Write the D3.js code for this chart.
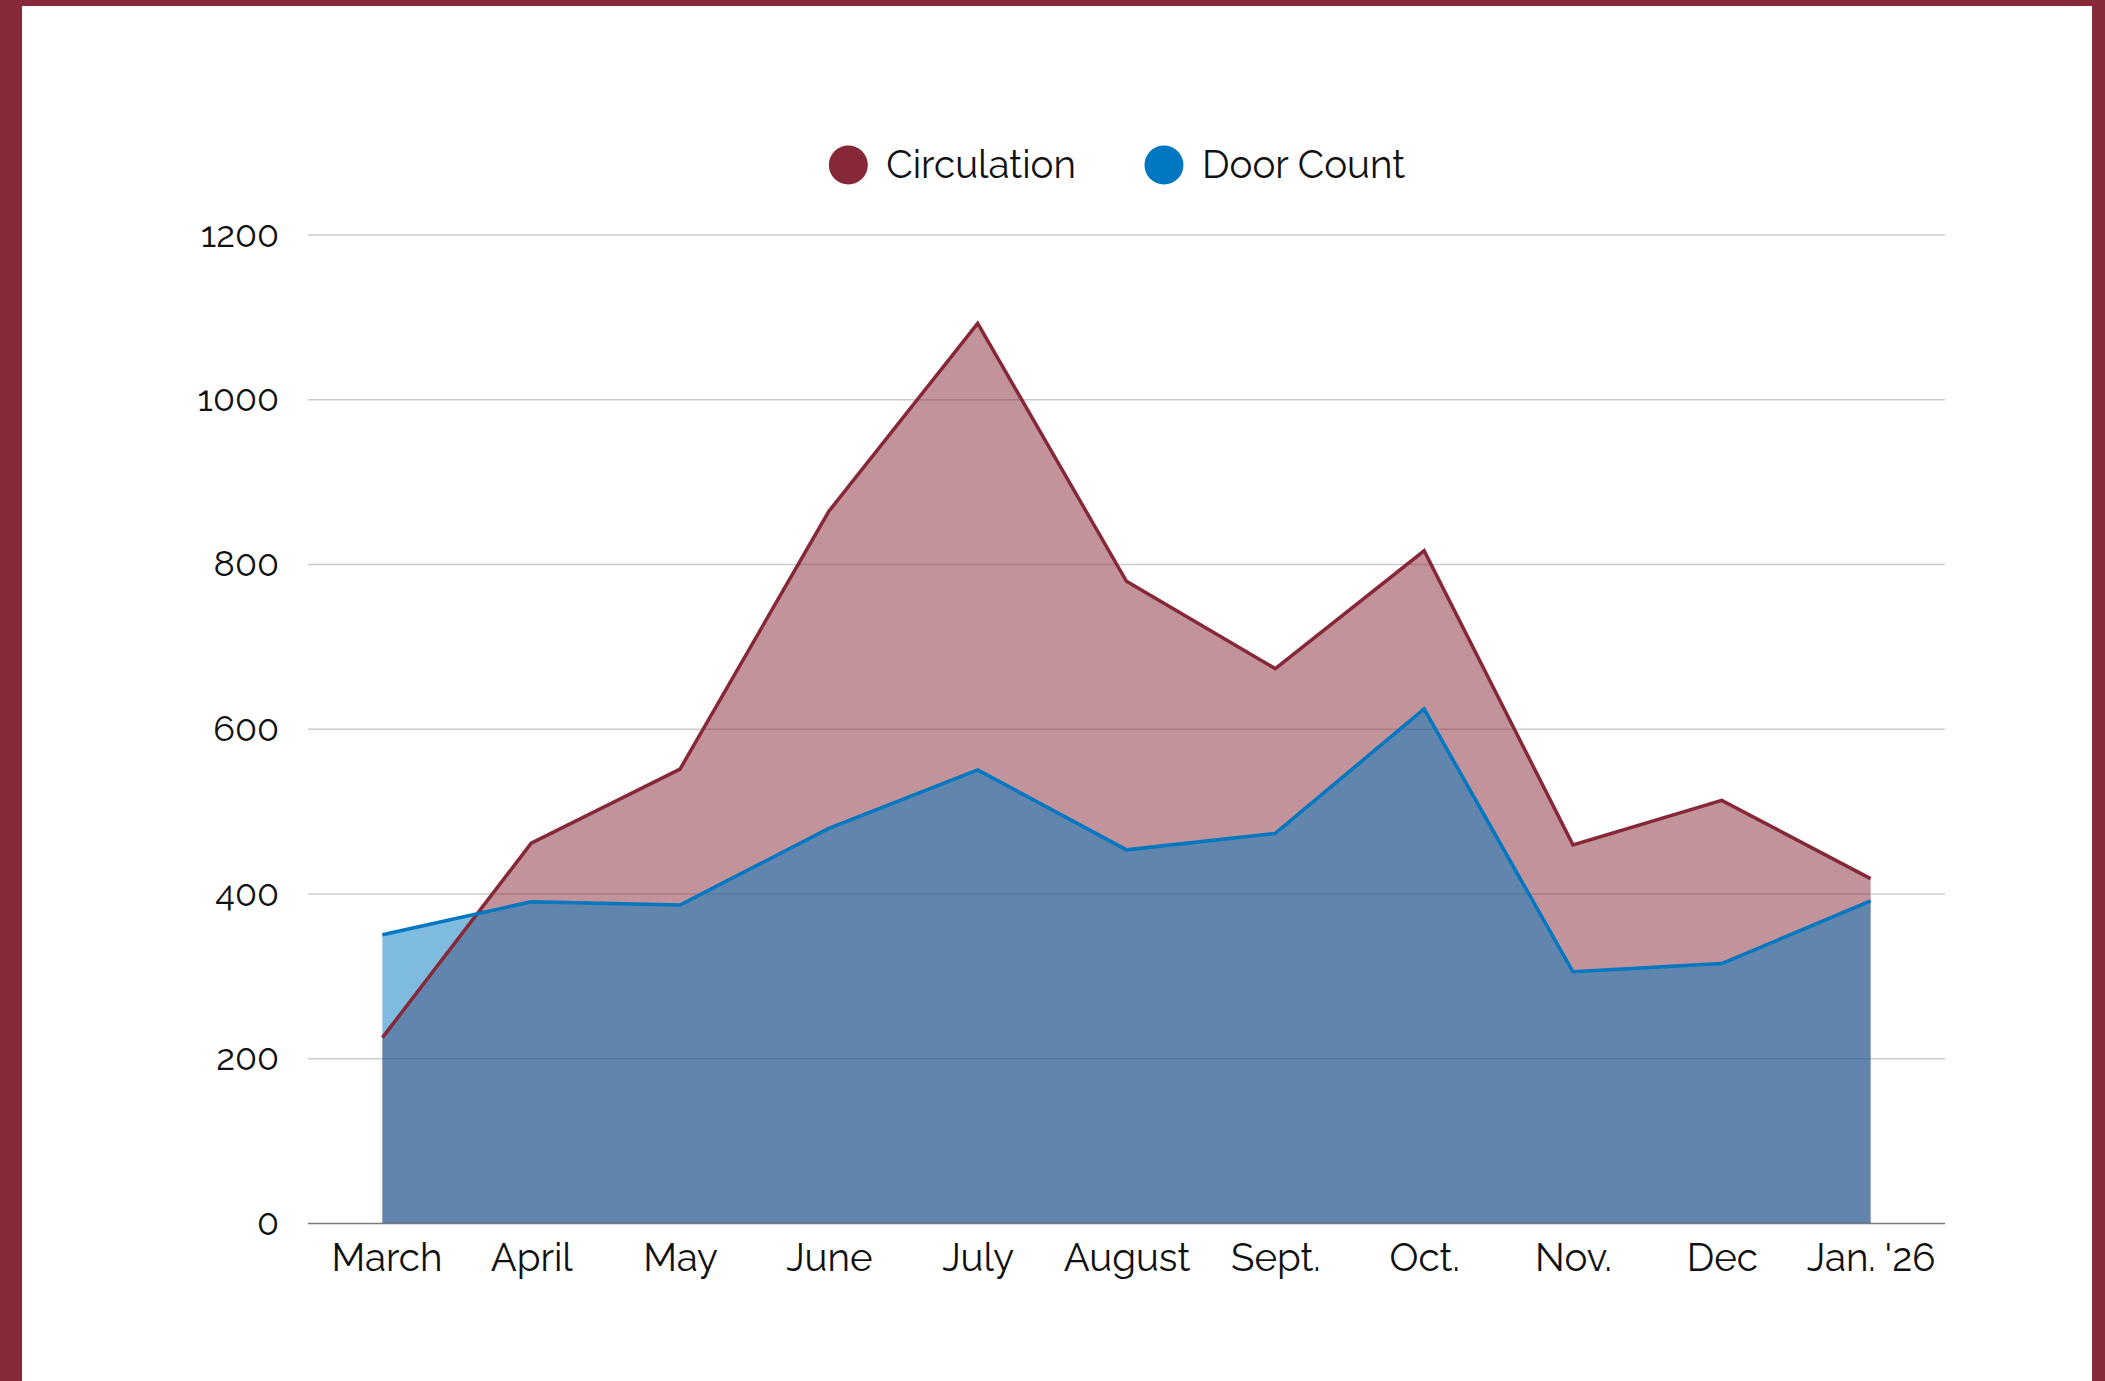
<!DOCTYPE html>
<html><head><meta charset="utf-8">
<script src="https://cdn.jsdelivr.net/npm/d3@7"></script>
<style>html,body{margin:0;padding:0;background:#fff;} svg{display:block;}</style>
</head><body><div id="chart"></div>
<script>
const categories = ["March","April","May","June","July","August","Sept.","Oct.","Nov.","Dec","Jan. '26"];
const circulation = [225,461,551,864,1092,779,673,816,459,513,418];
const doorCount = [350,390,386,479,550,453,473,624,305,315,391];
const yTicks = [0,200,400,600,800,1000,1200];
const seriesNames = ["Circulation","Door Count"];
const seriesColors = ["#862838","#0077C0"];

const W = 2105, H = 1381;
const FONT = "Raleway, Lato, 'Open Sans', sans-serif";
const svg = d3.select("#chart").append("svg").attr("width", W).attr("height", H);
svg.append("rect").attr("width", W).attr("height", H).attr("fill", "#862938");
svg.append("rect").attr("x", 22).attr("y", 6).attr("width", 2092 - 22).attr("height", H - 6).attr("fill", "#fff");

const x = d3.scalePoint().domain(categories).range([308, 1945]).padding(0.5);
const y = d3.scaleLinear().domain([0, 1200]).range([1223, 234.5]);

// grid + y axis
const yAxis = svg.append("g").attr("transform", "translate(308,0)")
  .call(d3.axisLeft(y).tickValues(yTicks).tickSize(-(1945 - 308)).tickPadding(29).tickFormat(d3.format("d")));
yAxis.select(".domain").remove();
yAxis.selectAll(".tick line").attr("stroke", d => d === 0 ? "#7a7a7a" : "#cccccc").attr("stroke-width", 1.5);
yAxis.selectAll(".tick text").attr("font-family", FONT).attr("font-size", 36).attr("fill", "#111");

const circData = categories.map((c, i) => ({c, v: circulation[i]}));
const doorData = categories.map((c, i) => ({c, v: doorCount[i]}));

const area = d3.area().x(d => x(d.c)).y0(y(0)).y1(d => y(d.v));
const line = d3.line().x(d => x(d.c)).y(d => y(d.v));

svg.append("path").datum(circData).attr("d", area).attr("fill", seriesColors[0]).attr("fill-opacity", 0.5);
svg.append("path").datum(doorData).attr("d", area).attr("fill", seriesColors[1]).attr("fill-opacity", 0.5);
svg.append("path").datum(circData).attr("d", line).attr("fill", "none").attr("stroke", seriesColors[0]).attr("stroke-width", 3.5).attr("stroke-linejoin", "miter");
svg.append("path").datum(doorData).attr("d", line).attr("fill", "none").attr("stroke", seriesColors[1]).attr("stroke-width", 3.5).attr("stroke-linejoin", "miter");

// x axis labels
const xAxis = svg.append("g").attr("transform", "translate(0,1223)")
  .call(d3.axisBottom(x).tickSize(0).tickPadding(0));
xAxis.select(".domain").remove();
xAxis.selectAll(".tick text").attr("font-family", FONT).attr("font-size", 38.5).attr("fill", "#111")
  .attr("dy", 0).attr("y", 48).attr("dx", (d, i) => i === 0 ? 4 : 0);

// legend
const leg = svg.append("g");
let cx = 0;
seriesNames.forEach((n, i) => {
  const g = leg.append("g");
  g.append("circle").attr("cx", cx).attr("cy", 0).attr("r", 19.5).attr("fill", seriesColors[i]);
  const t = g.append("text").attr("x", cx + 38).attr("y", 13).text(n)
    .attr("font-family", FONT).attr("font-size", 38.5).attr("fill", "#111");
  const w = t.node().getComputedTextLength();
  cx = cx + 38 + w + 88;
});
const bb = leg.node().getBBox();
const legCenter = 1117;
leg.attr("transform", `translate(${legCenter - (bb.x + bb.width / 2)},165)`);
</script></body></html>
